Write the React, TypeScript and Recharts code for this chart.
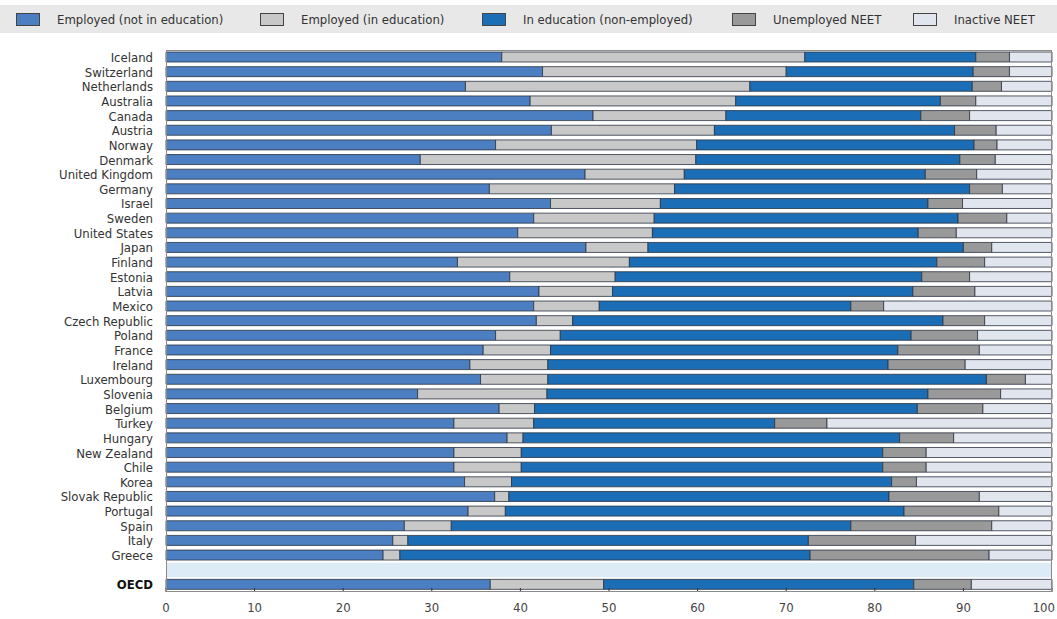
import React from "react";
import { BarChart, Bar, XAxis, YAxis, ReferenceArea } from "recharts";

const countries = [
  "Iceland", "Switzerland", "Netherlands", "Australia", "Canada", "Austria", "Norway", "Denmark",
  "United Kingdom", "Germany", "Israel", "Sweden", "United States", "Japan", "Finland", "Estonia",
  "Latvia", "Mexico", "Czech Republic", "Poland", "France", "Ireland", "Luxembourg", "Slovenia",
  "Belgium", "Turkey", "Hungary", "New Zealand", "Chile", "Korea", "Slovak Republic", "Portugal",
  "Spain", "Italy", "Greece", " ", "OECD",
];

// null for the spacer row between Greece and OECD
const employedNotEdu = [
  37.9, 42.5, 33.8, 41.1, 48.2, 43.5, 37.2, 28.7, 47.3, 36.5, 43.4, 41.5, 39.7, 47.4, 32.9, 38.8,
  42.1, 41.5, 41.8, 37.2, 35.8, 34.3, 35.5, 28.4, 37.6, 32.5, 38.5, 32.5, 32.5, 33.7, 37.1, 34.1,
  26.9, 25.6, 24.5, null, 36.6,
];
const employedInEdu = [
  34.2, 27.5, 32.1, 23.2, 15.0, 18.4, 22.7, 31.1, 11.2, 20.9, 12.4, 13.6, 15.2, 7.0, 19.4, 11.9,
  8.3, 7.4, 4.1, 7.3, 7.6, 8.8, 7.6, 14.6, 4.0, 9.0, 1.8, 7.6, 7.6, 5.3, 1.6, 4.2,
  5.3, 1.7, 1.9, null, 12.8,
];
const inEduNonEmp = [
  19.3, 21.1, 25.1, 23.1, 22.0, 27.1, 31.3, 29.8, 27.2, 33.3, 30.2, 34.3, 30.0, 35.6, 34.7, 34.6,
  33.9, 28.4, 41.8, 39.6, 39.2, 38.4, 49.5, 43.0, 43.2, 27.2, 42.5, 40.8, 40.8, 42.9, 42.9, 45.0,
  45.1, 45.2, 46.3, null, 35.0,
];
const unemployedNeet = [
  3.8, 4.1, 3.3, 4.0, 5.5, 4.7, 2.6, 4.0, 5.8, 3.7, 3.9, 5.5, 4.3, 3.2, 5.4, 5.4,
  7.0, 3.7, 4.7, 7.5, 9.2, 8.7, 4.4, 8.2, 7.4, 5.9, 6.1, 4.9, 4.9, 2.8, 10.2, 10.7,
  15.9, 12.1, 20.2, null, 6.5,
];
const inactiveNeet = [
  4.8, 4.8, 5.7, 8.6, 9.3, 6.3, 6.2, 6.4, 8.5, 5.6, 10.1, 5.1, 10.8, 6.8, 7.6, 9.3,
  8.7, 19.0, 7.6, 8.4, 8.2, 9.8, 3.0, 5.8, 7.8, 25.4, 11.1, 14.2, 14.2, 15.3, 8.2, 6.0,
  6.8, 15.4, 7.1, null, 9.1,
];
const xTicks = [0, 10, 20, 30, 40, 50, 60, 70, 80, 90, 100];

const series = [
  { key: "empNot", name: "Employed (not in education)", color: "#4b7fc2", values: employedNotEdu },
  { key: "empIn", name: "Employed (in education)", color: "#c8c8c8", values: employedInEdu },
  { key: "inEdu", name: "In education (non-employed)", color: "#1b6db6", values: inEduNonEmp },
  { key: "unemp", name: "Unemployed NEET", color: "#999999", values: unemployedNeet },
  { key: "inact", name: "Inactive NEET", color: "#e0e5ee", values: inactiveNeet },
];

const data = countries.map((name, i) => {
  const row: any = { name };
  series.forEach((s) => (row[s.key] = s.values[i]));
  return row;
});

const FONT = "'DejaVu Sans Condensed', 'DejaVu Sans', sans-serif";

const legendX = [16, 260, 482, 732, 913];

const XTick = (props: any) => {
  const { x, y, payload } = props;
  const last = payload.value === 100;
  return (
    <g>
      <line x1={x} x2={x} y1={y - 4} y2={y} stroke="#333" strokeWidth={1} />
      <text
        x={last ? x + 3 : x}
        y={y + 20}
        textAnchor={last ? "end" : "middle"}
        fontSize={13}
        fill="#444"
        fontFamily={FONT}
      >
        {payload.value}
      </text>
    </g>
  );
};

const YTick = (props: any) => {
  const { x, y, payload } = props;
  const bold = payload.value === "OECD";
  return (
    <text
      x={x - 13}
      y={y}
      dy="0.36em"
      textAnchor="end"
      fontSize={13}
      fill={bold ? "#111" : "#333"}
      fontWeight={bold ? "bold" : "normal"}
      fontFamily={FONT}
    >
      {payload.value}
    </text>
  );
};

const App = () => {
  return (
    <div
      style={{
        position: "absolute",
        left: 0,
        top: 0,
        width: 1057,
        height: 619,
        background: "#ffffff",
        fontFamily: FONT,
      }}
    >
      <div
        style={{
          position: "absolute",
          left: 0,
          top: 5,
          width: 1057,
          height: 28,
          background: "#e8e8e8",
        }}
      >
        {series.map((s, i) => (
          <div
            key={s.key}
            style={{
              position: "absolute",
              left: legendX[i],
              top: 0,
              height: 28,
              display: "flex",
              alignItems: "center",
              fontSize: 13,
              color: "#333",
            }}
          >
            <span
              style={{
                display: "inline-block",
                width: 22,
                height: 11,
                background: s.color,
                border: "1px solid #444",
                marginRight: 17,
              }}
            />
            {s.name}
          </div>
        ))}
      </div>

      <BarChart
        width={1057}
        height={619}
        data={data}
        layout="vertical"
        barCategoryGap={0}
        margin={{ top: 50, right: 5, bottom: 0, left: 0 }}
        style={{ position: "absolute", left: 0, top: 0 }}
      >
        <XAxis
          type="number"
          domain={[0, 100]}
          ticks={xTicks}
          axisLine={false}
          tickLine={false}
          tickSize={0}
          tickMargin={0}
          height={27}
          tick={<XTick />}
          interval={0}
        />
        <YAxis
          type="category"
          dataKey="name"
          width={166}
          axisLine={false}
          tickLine={false}
          tickSize={0}
          tickMargin={0}
          interval={0}
          tick={<YTick />}
        />
        <ReferenceArea y1=" " y2=" " x1={0} x2={100} fill="#dcebf6" fillOpacity={1} stroke="none" />
        {series.map((s) => (
          <Bar
            key={s.key}
            dataKey={s.key}
            name={s.name}
            stackId="a"
            fill={s.color}
            stroke="#2c3440"
            strokeWidth={0.8}
            barSize={10}
            isAnimationActive={false}
          />
        ))}
      </BarChart>

      <div
        style={{
          position: "absolute",
          left: 166,
          top: 50,
          width: 886,
          height: 542,
          border: "1px solid #8a8a8a",
          boxSizing: "border-box",
          pointerEvents: "none",
        }}
      />
    </div>
  );
};

export default App;
